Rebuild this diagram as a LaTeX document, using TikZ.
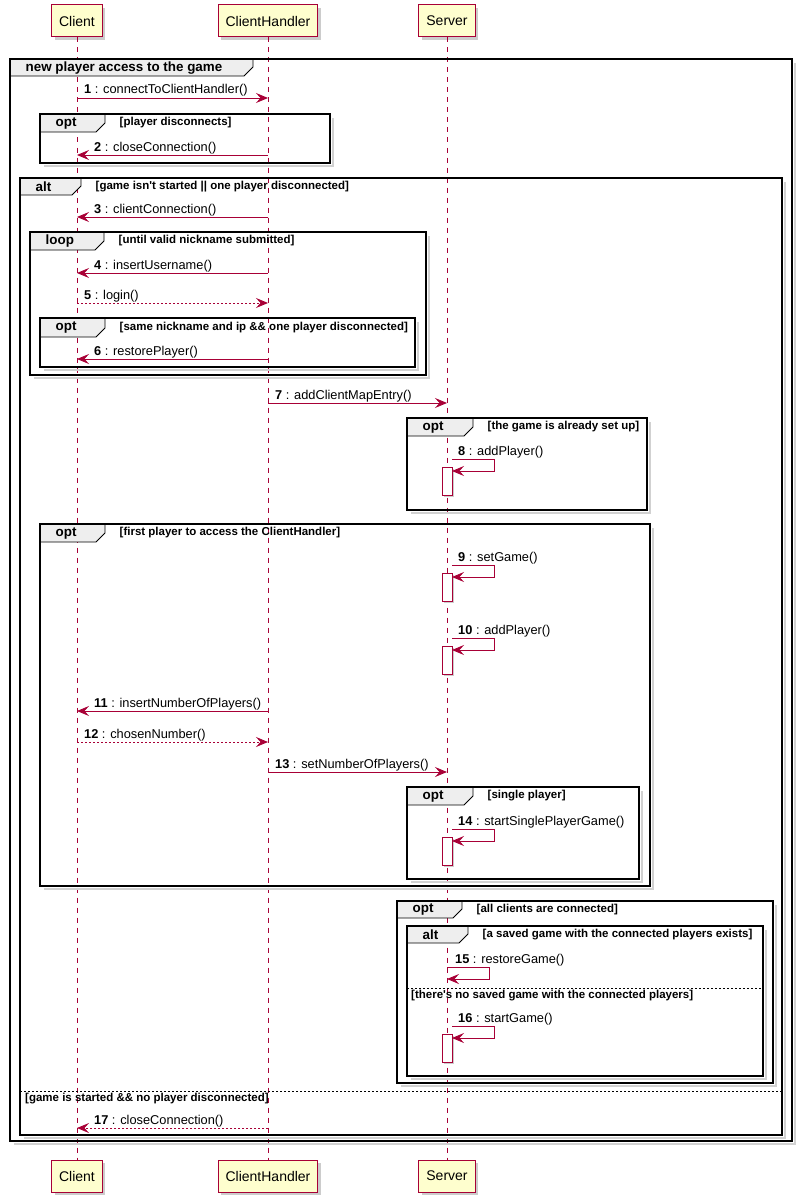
\documentclass[tikz,border=0pt]{standalone}
\usepackage{fontspec}
\setmainfont{Liberation Sans}
\usetikzlibrary{arrows.meta,calc,shadows,positioning}
\definecolor{umlRed}{HTML}{A80036}
\definecolor{umlYellow}{HTML}{FEFECE}
\definecolor{umlGrey}{HTML}{EEEEEE}
\tikzset{
  participant/.style={draw=umlRed,fill=umlYellow,line width=1pt,minimum height=32pt,inner xsep=7.5pt,
    font=\fontsize{14}{16}\selectfont,general shadow={fill=black!20,shadow xshift=3pt,shadow yshift=-3pt}},
  lifeline/.style={umlRed,line width=0.8pt,dash pattern=on 5pt off 5pt},
  call/.style={umlRed,line width=0.9pt,-{Stealth[length=12pt,width=10pt,inset=4.5pt]}},
  reply/.style={call,dash pattern=on 2pt off 2pt},
  activation/.style={draw=umlRed,fill=white,line width=0.9pt,general shadow={fill=black!20,shadow xshift=2pt,shadow yshift=-2pt}},
  frame/.style={line width=1.6pt},
  frameshadow/.style={black!18,line width=2.5pt},
  tab/.style={draw,fill=umlGrey,line width=0.8pt},
  altsep/.style={line width=0.8pt,dash pattern=on 2pt off 2pt},
  keyword/.style={anchor=west,inner sep=0pt,font=\fontsize{13.4}{15}\bfseries},
  guard/.style={anchor=west,inner sep=0pt,font=\fontsize{11.5}{13}\bfseries},
  msglabel/.style={anchor=base west,inner sep=0pt,font=\fontsize{12.8}{14}\selectfont}
}
\begin{document}
\begin{tikzpicture}[x=1pt,y=-1pt]
  \useasboundingbox (0,0) rectangle (805,1204);

  \foreach \p/\px/\name in {cl/77/Client,ch/268/ClientHandler,sv/447/Server} {
    \node[participant] (\p) at (\px,21) {\name};
    \node[participant,below=1122pt of \p] (\p bot) {\name};
    \draw[lifeline] (\p) -- (\p bot);
  }

  \foreach \xa/\ya/\xb/\yb/\tr/\hb/\kw/\cond in {
    10/59/792/1141/253/76/new player access to the game/,
    40/114/330/163/105/132/opt/[player disconnects],
    20/178/782/1135/81/195/alt/[game isn\textquotesingle t started || one player disconnected],
    30/232/426/375/104/250/loop/[until valid nickname submitted],
    40/318/415/367/105/337/opt/[same nickname and ip \&\& one player disconnected],
    407/418/647/510/473/436/opt/[the game is already set up],
    40/524/650/886/105/542/opt/[first player to access the ClientHandler],
    407/787/639/879/473/805/opt/[single player],
    397/901/773/1083/462/918/opt/[all clients are connected],
    407/926/763/1076/468/943/alt/[a saved game with the connected players exists]} {
    \draw[frameshadow] (\xa+4,\yb+3) -- (\xb+3,\yb+3) -- (\xb+3,\ya+4);
    \draw[tab] (\xa,\ya) -- (\tr,\ya) -- (\tr,\hb-9) -- (\tr-9,\hb) -- (\xa,\hb) -- cycle;
    \draw[frame] (\xa,\ya) rectangle (\xb,\yb);
    \node[keyword] at (\xa+15.5,{(\ya+\hb)/2+0.5}) {\kw};
    \node[guard] at (\tr+14.5,{(\ya+\hb)/2}) {\cond};
  }

  \draw[altsep] (20,1091) -- (782,1091);
  \node[guard] at (25,1099) {[game is started \&\& no player disconnected]};
  \draw[altsep] (407,988) -- (763,988);
  \node[guard] at (411,996) {[there\textquotesingle s no saved game with the connected players]};

  \foreach \y/\src/\dst/\side/\dx/\kind/\num/\txt in {
    98/cl/ch/cl/7/call/1/connectToClientHandler(),
    155/ch/cl/cl/17/call/2/closeConnection(),
    217/ch/cl/cl/17/call/3/clientConnection(),
    273/ch/cl/cl/17/call/4/insertUsername(),
    303/cl/ch/cl/7/reply/5/login(),
    359/ch/cl/cl/17/call/6/restorePlayer(),
    403/ch/sv/ch/7/call/7/addClientMapEntry(),
    711/ch/cl/cl/17/call/11/insertNumberOfPlayers(),
    742/cl/ch/cl/7/reply/12/chosenNumber(),
    772/ch/sv/ch/7/call/13/setNumberOfPlayers(),
    1128/ch/cl/cl/17/reply/17/closeConnection()} {
    \draw[\kind] (\src |- 0,\y) -- (\dst |- 0,\y);
    \node[msglabel] at ($(\side |- 0,\y)+(\dx,-4)$) {\textbf{\num} : \txt};
  }

  \foreach \y/\num/\txt in {459/8/addPlayer(),565/9/setGame(),638/10/addPlayer(),
    829/14/startSinglePlayerGame(),1026/16/startGame()} {
    \draw[activation] ($(sv |- 0,\y)+(-5,8)$) rectangle ++(10,28);
    \draw[call] ($(sv |- 0,\y)+(5,0)$) -- ++(42,0) -- ++(0,12) -- ++(-42,0);
    \node[msglabel] at ($(sv |- 0,\y)+(11,-4)$) {\textbf{\num} : \txt};
  }
  \draw[call] (sv |- 0,967) -- ++(42,0) -- ++(0,12) -- ++(-42,0);
  \node[msglabel] at ($(sv |- 0,967)+(8,-4)$) {\textbf{15} : restoreGame()};
\end{tikzpicture}
\end{document}
